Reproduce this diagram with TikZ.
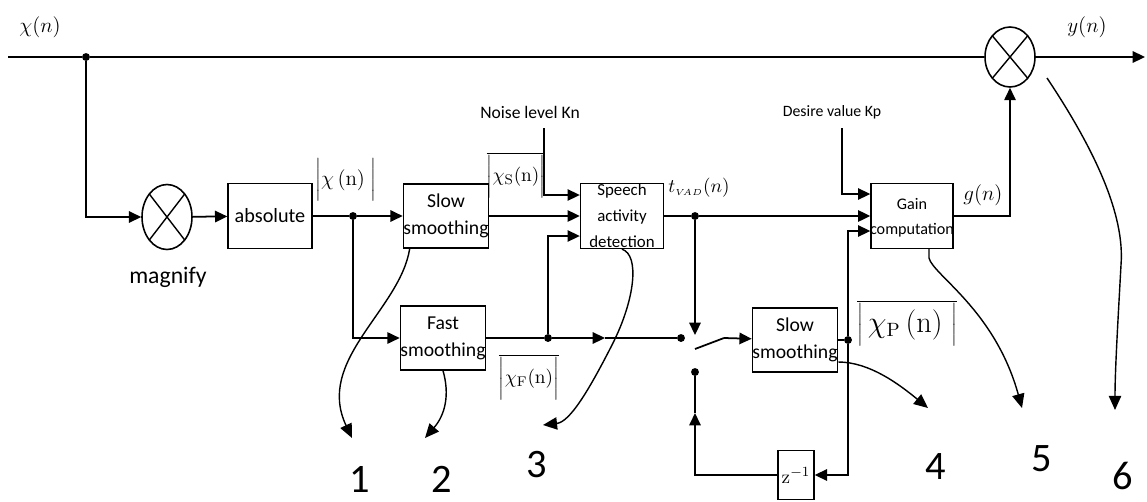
\documentclass[tikz,border=0pt]{standalone}
\usepackage[no-math]{fontspec}
\setmainfont{Carlito}
\usetikzlibrary{arrows.meta,positioning,shapes.geometric,calc}

\tikzset{
  block/.style={draw, line width=0.8pt, minimum width=1.64cm, minimum height=1.28cm,
    inner sep=0pt, align=center, font=\fontsize{11.2}{15.5}\selectfont},
  blocktext/.style={align=center, inner sep=0pt},
  mult/.style={draw, ellipse, line width=0.9pt, minimum width=1cm, minimum height=1.2cm,
    path picture={\draw[line width=0.8pt]
      (path picture bounding box.north west) -- (path picture bounding box.south east)
      (path picture bounding box.north east) -- (path picture bounding box.south west);}},
  wire/.style={line width=1pt},
  sig/.style={line width=1pt, -{Triangle[length=7pt,width=6.5pt]}},
  jdot/.style={circle, fill, inner sep=0pt, minimum size=4.5pt},
  callout/.style={line width=0.8pt, -{Triangle[length=8pt,width=7pt]}},
  lbl/.style={inner sep=0pt},
  numlbl/.style={inner sep=0pt, font=\fontsize{23}{25}\selectfont},
}

\begin{document}
\begin{tikzpicture}[x=0.02cm, y=-0.02cm]
  \useasboundingbox (0,0) rectangle (1147,501);

  % Blocks
  \node[mult] (mulOut) at (1010,57) {};
  \node[mult, minimum height=1.3cm] (mulIn) at (167,217) {};
  \node[block, minimum width=1.68cm, minimum height=1.3cm, font=\fontsize{11.5}{15}\selectfont] (absBox) at (270,216) {absolute};
  \node[block] (slow1) at (446,216) {Slow\\smoothing};
  \node[block] (fast) at (443,338) {Fast\\smoothing};
  \node[block, minimum width=1.66cm] (slow2) at (795,340) {Slow\\smoothing};
  \node[block, minimum width=1.66cm, minimum height=1.3cm] (sad) at (622,216) {};
  \node[blocktext, font=\fontsize{9.6}{14.7}\selectfont] (sadTxt) at (622,216) {Speech\\activity\\detection};
  \node[block, minimum height=1.3cm] (gain) at (912,216) {};
  \node[blocktext, font=\fontsize{9.2}{14.2}\selectfont] (gainTxt) at (912,218) {Gain\\computation};
  \node[block, minimum width=0.72cm, minimum height=0.98cm] (zinv) at (796,475) {$\mathrm{z}^{-1}$};

  % Text labels
  \node[lbl, font=\fontsize{13.5}{15}\selectfont] (magLbl) at (168,277) {magnify};
  \node[lbl, font=\fontsize{10}{12}\selectfont] (noiseLbl) at (530,112) {Noise level Kn};
  \node[lbl, font=\fontsize{9}{11}\selectfont] (desireLbl) at (832,112) {Desire value Kp};
  \node[lbl, font=\fontsize{12}{14}\selectfont] (xLbl) at (40,27) {$\chi(n)$};
  \node[lbl, font=\fontsize{12}{14}\selectfont] (yLbl) at (1087,27) {$y(n)$};
  \node[lbl, font=\fontsize{12}{14}\selectfont] (gLbl) at (983,195) {$g(n)$};
  \node[lbl, font=\fontsize{11}{13}\selectfont] (tLbl) at (699,188) {$t_{\scriptscriptstyle V\!AD}(n)$};
  \node[lbl, font=\fontsize{12}{14}\selectfont] (absLbl) at (346,180) {$\biggl|\chi\,(\mathrm{n})\;\biggr|$};
  \node[lbl, font=\fontsize{11}{13}\selectfont] (sLbl) at (516,175) {$\overline{\biggl|\chi_{\mathrm{S}}(\mathrm{n})\biggr|}$};
  \node[lbl, font=\fontsize{11}{13}\selectfont] (fLbl) at (529,377) {$\overline{\biggl|\chi_{\mathrm{F}}(\mathrm{n})\biggr|}$};
  \node[lbl, font=\fontsize{16}{18}\selectfont] (pLbl) at (907,323) {$\overline{\biggl|\,\chi_{\mathrm{P}}\,(\mathrm{n})\;\biggr|}$};

  % Main signal path
  \coordinate (inL) at (8,57);
  \coordinate (outR) at (1145,57);
  \node[jdot] (jA) at (86,57) {};
  \draw[wire] (inL) -- (jA) -- (mulOut);
  \draw[sig] (mulOut) -- (outR);
  \draw[sig] (jA) |- (mulIn);
  \draw[sig] (mulIn) -- (absBox);
  \node[jdot] (jB) at (353,216) {};
  \draw[wire] (absBox) -- (jB);
  \draw[sig] (jB) -- (slow1);
  \draw[sig, line width=0.8pt] (jB) |- (fast);
  \draw[sig] (slow1) -- (sad);

  % Noise level input
  \coordinate (noiseTop) at (544,128);
  \draw[sig, line width=0.8pt] (noiseTop) |- ($(sad.west)+(0,-21)$);

  % Fast branch to the switch
  \node[jdot] (jC) at (548,338) {};
  \coordinate (midF) at (605,338);
  \node[jdot] (swL) at (681,338) {};
  \draw[wire] (fast) -- (jC);
  \draw[sig] (jC) -- (midF);
  \draw[wire] (midF) -- (swL);
  \draw[sig, line width=0.8pt] (jC) |- ($(sad.west)+(0,20)$);

  % VAD output
  \node[jdot] (jD) at (695,216) {};
  \coordinate (swTop) at (695,335);
  \draw[wire] (sad) -- (jD);
  \draw[sig] (jD) -- (gain);
  \draw[sig] (jD) -- (swTop);

  % Switch blade and feedback
  \coordinate (bladeA) at (695,349);
  \coordinate (bladeB) at (724,338);
  \draw[wire] (bladeA) -- (bladeB);
  \draw[sig] (bladeB) -- (slow2);
  \node[jdot] (swB) at (695,372) {};
  \coordinate (fbUp) at (695,413);
  \draw[sig, line width=0.8pt] (zinv) -| (fbUp);
  \draw[wire, line width=0.8pt] (fbUp) -- (swB);
  \node[jdot] (jE) at (848,340) {};
  \draw[wire, line width=0.8pt] (slow2) -- (jE);
  \draw[sig, line width=0.8pt] (jE) |- (zinv);
  \draw[sig, line width=0.8pt] (jE) |- ($(gain.west)+(0,15)$);

  % Desired value and gain output
  \coordinate (desireTop) at (842,128);
  \draw[sig, line width=0.8pt] (desireTop) |- ($(gain.west)+(0,-22)$);
  \draw[sig, line width=0.8pt] (gain) -| (mulOut);

  % Numbered callouts
  \coordinate (tip1) at (352,438);
  \coordinate (tip2) at (425,438);
  \coordinate (tip3) at (543,425);
  \coordinate (tip4) at (928,408);
  \coordinate (tip5) at (1022,408);
  \coordinate (tip6) at (1115,410);
  \coordinate (start6) at (1047,78);
  \draw[callout] ($(slow1.south west)+(7,0)$) .. controls (400,310) and (315,360) .. (tip1);
  \draw[callout] (fast.south) .. controls (450,395) and (445,415) .. (tip2);
  \draw[callout] (sad.south) .. controls (640,255) and (635,300) .. (612,345)
    .. controls (589,390) and (570,422) .. (tip3);
  \draw[callout] ($(slow2.east)+(0,22)$) .. controls (870,362) and (900,385) .. (tip4);
  \draw[callout] ($(gain.south)+(17,0)$) -- (929,258) .. controls (933,275) and (995,310) .. (tip5);
  \draw[callout] (start6) .. controls (1095,150) and (1125,215) .. (1121,265)
    .. controls (1118,320) and (1115,370) .. (tip6);
  \node[numlbl] (n1) at (360,479) {1};
  \node[numlbl] (n2) at (442,479) {2};
  \node[numlbl] (n3) at (537,465) {3};
  \node[numlbl] (n4) at (936,467) {4};
  \node[numlbl] (n5) at (1042,459) {5};
  \node[numlbl] (n6) at (1123,476) {6};
\end{tikzpicture}
\end{document}
